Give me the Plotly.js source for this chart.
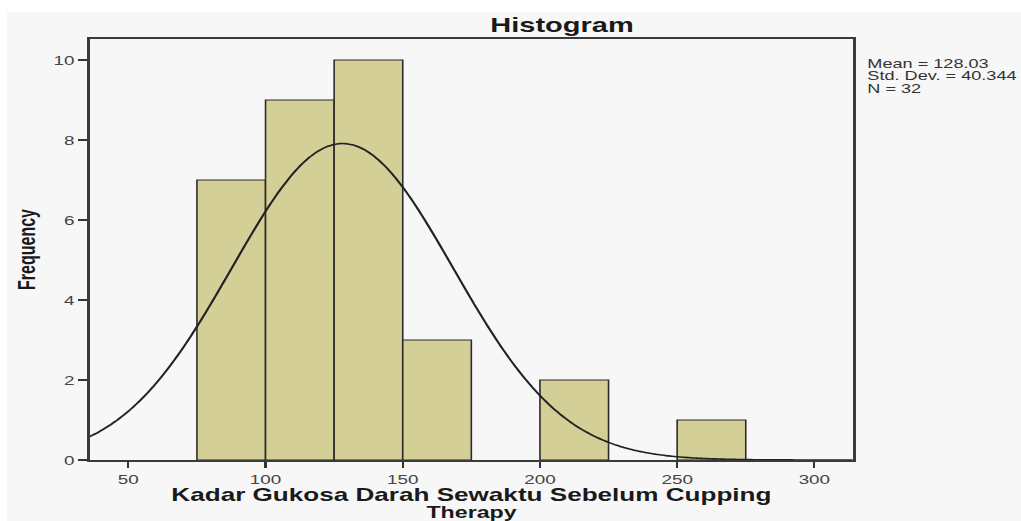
<!DOCTYPE html>
<html>
<head>
<meta charset="utf-8">
<script src="https://cdn.plot.ly/plotly-3.0.1.min.js"></script>
<style>
  html, body { margin: 0; padding: 0; background: #ffffff; overflow: hidden; }
  #wrap { width: 1021px; height: 521px; overflow: hidden; position: relative; }
  #chart { width: 704px; height: 521px; transform: scaleX(1.4503); transform-origin: 0 0; }
</style>
</head>
<body>
<div id="wrap"><div id="chart"></div></div>
<script>
// ---- data ----
const binStarts = [75, 100, 125, 150, 200, 250];
const binCounts = [7, 9, 10, 3, 2, 1];
const binWidth = 25;
const statMean = 128.03;
const statSd = 40.344;
const statN = 32;
const xTickVals = [50, 100, 150, 200, 250, 300];
const yTickVals = [0, 2, 4, 6, 8, 10];
const statLines = ["Mean = 128.03", "Std. Dev. = 40.344", "N = 32"];

// ---- derived ----
const binCenters = binStarts.map(s => s + binWidth / 2);
const xMin = 36, xMax = 314;
const curveX = [], curveY = [];
for (let x = xMin; x <= xMax; x += 1) {
  const z = (x - statMean) / statSd;
  curveX.push(x);
  curveY.push(statN * binWidth / (statSd * Math.sqrt(2 * Math.PI)) * Math.exp(-0.5 * z * z));
}

const bars = {
  type: 'bar', x: binCenters, y: binCounts, width: binWidth,
  marker: { color: '#d4cf96', line: { color: '#2b2b2b', width: 1.1 } },
  hoverinfo: 'skip', showlegend: false
};
const curve = {
  type: 'scatter', mode: 'lines', x: curveX, y: curveY,
  line: { color: '#222222', width: 1.6, shape: 'spline' },
  hoverinfo: 'skip', showlegend: false
};

const PL = 62, PR = 116, PT = 39, PB = 61, H = 521;
const plotH = H - PT - PB;
const py = (Y) => (H - PB - Y) / plotH;   // pixel y -> paper y
const px = (X) => (X / 1.4503 - PL) / (704 - PL - PR); // actual pixel x -> paper x

const annotations = statLines.map((t, i) => ({
  text: t, xref: 'paper', yref: 'paper', x: px(865), y: py(64 + i * 12.5),
  xanchor: 'left', yanchor: 'middle', showarrow: false,
  font: { family: 'Liberation Sans, Arial, sans-serif', size: 12.5, color: '#333333' }
}));
annotations.push({
  text: 'Kadar Gukosa Darah Sewaktu Sebelum Cupping', xref: 'paper', yref: 'paper', x: 0.5, y: py(495),
  xanchor: 'center', yanchor: 'middle', showarrow: false,
  font: { family: 'Liberation Sans, Arial, sans-serif', size: 18, color: '#1a1a1a', weight: 'bold' }
});
annotations.push({
  text: 'Therapy', xref: 'paper', yref: 'paper', x: 0.5, y: py(512.5),
  xanchor: 'center', yanchor: 'middle', showarrow: false,
  font: { family: 'Liberation Sans, Arial, sans-serif', size: 16, color: '#1a1a1a', weight: 'bold' }
});

const layout = {
  width: 704, height: H,
  margin: { l: PL, r: PR, t: PT, b: PB, pad: 0 },
  paper_bgcolor: 'rgba(0,0,0,0)',
  plot_bgcolor: '#efefef',
  bargap: 0,
  title: {
    text: 'Histogram', x: px(562), xref: 'paper', xanchor: 'center',
    y: 1 - 25 / H, yanchor: 'middle',
    font: { family: 'Liberation Sans, Arial, sans-serif', size: 20, color: '#1a1a1a', weight: 'bold' }
  },
  xaxis: {
    range: [xMin, xMax], tickvals: xTickVals, ticktext: xTickVals.map(String),
    ticks: 'outside', ticklen: 6, tickwidth: 1.5, tickcolor: '#333333',
    showline: true, linecolor: '#3a3a3a', linewidth: 2, mirror: true,
    showgrid: false, zeroline: false,
    tickfont: { family: 'Liberation Sans, Arial, sans-serif', size: 13, color: '#444444' },
    title: { text: '' }
  },
  yaxis: {
    range: [0, 10.525], tickvals: yTickVals, ticktext: yTickVals.map(String),
    ticks: 'outside', ticklen: 6, tickwidth: 2, tickcolor: '#333333',
    showline: true, linecolor: '#3a3a3a', linewidth: 2, mirror: true,
    showgrid: false, zeroline: false,
    tickfont: { family: 'Liberation Sans, Arial, sans-serif', size: 13, color: '#444444' },
    title: {
      text: 'Frequency', standoff: 8,
      font: { family: 'Liberation Sans, Arial, sans-serif', size: 16, color: '#1a1a1a', weight: 'bold' }
    }
  },
  annotations: annotations,
  shapes: [{
    type: 'rect', xref: 'paper', yref: 'paper', layer: 'below',
    x0: px(7), x1: px(1030), y0: py(530), y1: py(12),
    fillcolor: '#f7f7f7', line: { width: 0 }
  }]
};

Plotly.newPlot('chart', [bars, curve], layout, { displayModeBar: false, staticPlot: true });
</script>
</body>
</html>
